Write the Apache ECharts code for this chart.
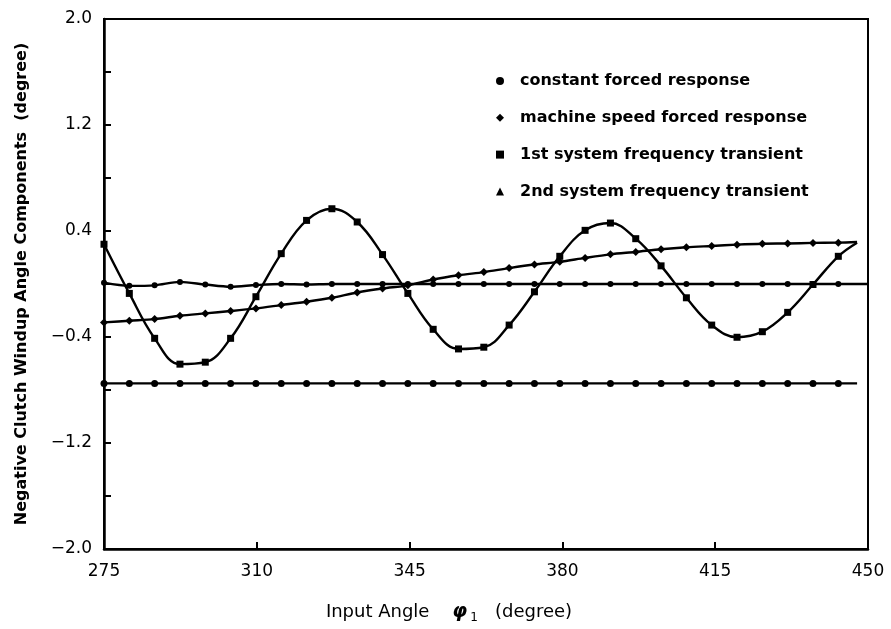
<!DOCTYPE html>
<html>
<head>
<meta charset="utf-8">
<script src="https://cdn.jsdelivr.net/npm/echarts@6/dist/echarts.min.js"></script>
<style>html,body{margin:0;padding:0;background:#fff}#c{width:891px;height:629px}</style>
</head>
<body>
<div id="c"></div>
<script>
// Input angle positions of the plotted markers (degree)
var xs = [275, 280.8, 286.6, 292.4, 298.2, 304, 309.8, 315.6, 321.4, 327.2,
          333, 338.8, 344.6, 350.4, 356.2, 362, 367.8, 373.6, 379.4, 385.2,
          391, 396.8, 402.6, 408.4, 414.2, 420, 425.8, 431.6, 437.4, 443.2];
var xEnd = 447.5;      // end of the computed curves
var xAxisEnd = 450;    // zero line runs to axis end

var constantForced = [-0.75, -0.75, -0.75, -0.75, -0.75, -0.75, -0.75, -0.75, -0.75, -0.75,
                      -0.75, -0.75, -0.75, -0.75, -0.75, -0.75, -0.75, -0.75, -0.75, -0.75,
                      -0.75, -0.75, -0.75, -0.75, -0.75, -0.75, -0.75, -0.75, -0.75, -0.75];
var constantEnd = -0.75;

var machineSpeed = [-0.29, -0.277, -0.265, -0.24, -0.222, -0.204, -0.184, -0.159, -0.134, -0.104,
                    -0.064, -0.034, -0.01, 0.034, 0.066, 0.09, 0.12, 0.147, 0.167, 0.197,
                    0.224, 0.242, 0.262, 0.277, 0.287, 0.297, 0.304, 0.306, 0.31, 0.312];
var machineEnd = 0.317;

var firstTransient = [0.30, -0.071, -0.41, -0.605, -0.59, -0.41, -0.096, 0.229, 0.48, 0.568,
                      0.468, 0.222, -0.071, -0.342, -0.49, -0.477, -0.31, -0.059, 0.209, 0.405,
                      0.46, 0.342, 0.137, -0.104, -0.31, -0.402, -0.36, -0.214, -0.004, 0.209];
var firstEnd = 0.312;

var secondTransient = [0.01, -0.014, -0.01, 0.016, -0.004, -0.021, -0.008, 0.0, -0.004, 0.0,
                       0.0, 0.0, 0.0, 0.0, 0.0, 0.0, 0.0, 0.0, 0.0, 0.0,
                       0.0, 0.0, 0.0, 0.0, 0.0, 0.0, 0.0, 0.0, 0.0, 0.0];
var secondEnd = 0.0;

var seriesNames = ['constant forced response', 'machine speed forced response',
                   '1st system frequency transient', '2nd system frequency transient'];
var yTickLabels = ['-2.0', '-1.2', '-0.4', '0.4', '1.2', '2.0'];

function build(vals, endX, endV) {
  var d = xs.map(function (x, i) { return [x, vals[i]]; });
  d.push({ value: [endX, endV], symbol: 'none' });
  return d;
}

var FONT = 'DejaVu Sans';
var chart = echarts.init(document.getElementById('c'), null, { renderer: 'canvas' });
var lineStyle = { color: '#000', width: 2.4 };
chart.setOption({
  animation: false,
  backgroundColor: '#fff',
  grid: { left: 104, right: 23, top: 19, bottom: 78, show: true, borderColor: '#000', borderWidth: 2, backgroundColor: 'transparent' },
  legend: {
    orient: 'vertical', left: 491, top: 68, itemGap: 20.8,
    itemWidth: 8, itemHeight: 8,
    textStyle: { fontFamily: FONT, fontSize: 16, color: '#000', fontWeight: 'bold', padding: [0, 0, 0, 11] },
    data: [
      { name: seriesNames[0], icon: 'circle' },
      { name: seriesNames[1], icon: 'diamond' },
      { name: seriesNames[2], icon: 'rect' },
      { name: seriesNames[3], icon: 'triangle' }
    ]
  },
  xAxis: {
    type: 'value', min: 275, max: 450, interval: 35,
    name: 'Input Angle    {phi|φ}{sub|1}   (degree)',
    nameLocation: 'middle', nameGap: 51,
    nameTextStyle: {
      fontFamily: FONT, fontSize: 18, color: '#000', padding: [0, 74, 0, 0],
      rich: {
        phi: { fontFamily: FONT, fontSize: 19, fontStyle: 'italic', fontWeight: 'bold', color: '#000' },
        sub: { fontFamily: FONT, fontSize: 12, color: '#000', padding: [12, 0, 0, 3] }
      }
    },
    axisLine: { onZero: false, lineStyle: { color: '#000', width: 2.5 } },
    axisTick: { inside: true, length: 7, lineStyle: { color: '#000', width: 2 } },
    axisLabel: { fontFamily: FONT, fontSize: 17, color: '#000', margin: 14 },
    splitLine: { show: false }
  },
  yAxis: {
    type: 'value', min: -2.0, max: 2.0, interval: 0.4,
    name: 'Negative Clutch Windup Angle Components  (degree)',
    nameLocation: 'middle', nameGap: 74,
    nameTextStyle: { fontFamily: FONT, fontSize: 16, color: '#000', fontWeight: 'bold' },
    axisLine: { onZero: false, lineStyle: { color: '#000', width: 2.5 } },
    axisTick: { inside: true, length: 7, lineStyle: { color: '#000', width: 2 } },
    axisLabel: {
      fontFamily: FONT, fontSize: 17, color: '#000', margin: 12,
      formatter: function (v) {
        var s = (Math.round(v * 10) / 10).toFixed(1);
        if (yTickLabels.indexOf(s) < 0) return '';
        return s.replace('-', '\u2212');
      }
    },
    splitLine: { show: false }
  },
  series: [
    { name: seriesNames[0], type: 'line', data: build(constantForced, xEnd, constantEnd),
      symbol: 'circle', symbolSize: 7, itemStyle: { color: '#000' }, lineStyle: lineStyle },
    { name: seriesNames[1], type: 'line', data: build(machineSpeed, xEnd, machineEnd), smooth: 0.3,
      symbol: 'diamond', symbolSize: 8, itemStyle: { color: '#000' }, lineStyle: lineStyle },
    { name: seriesNames[2], type: 'line', data: build(firstTransient, xEnd, firstEnd), smooth: 0.4,
      symbol: 'rect', symbolSize: 7, itemStyle: { color: '#000' }, lineStyle: lineStyle },
    { name: seriesNames[3], type: 'line', data: build(secondTransient, xAxisEnd, secondEnd), smooth: 0.3,
      symbol: 'circle', symbolSize: 6, itemStyle: { color: '#000' }, lineStyle: lineStyle }
  ]
});
</script>
</body>
</html>
